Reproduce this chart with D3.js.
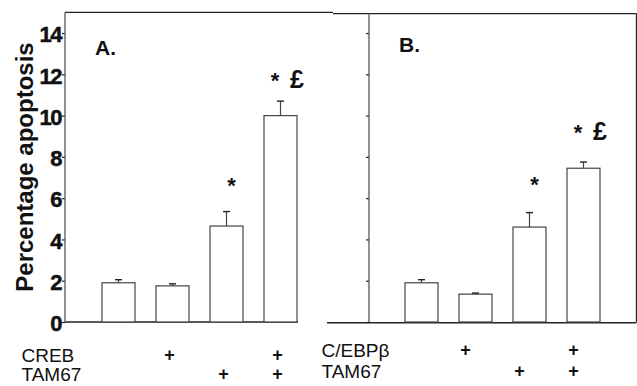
<!DOCTYPE html>
<html>
<head>
<meta charset="utf-8">
<script src="https://cdn.jsdelivr.net/npm/d3@7"></script>
<style>
  html, body { margin: 0; padding: 0; background: #fff; }
  svg { display: block; }
  text { font-family: "Liberation Sans", Arial, sans-serif; fill: #111; }
</style>
</head>
<body>
<svg id="chart" width="637" height="386"></svg>
<script>
// Percentage apoptosis per condition (mean and SEM)
const creebMeans  = [1.9, 1.75, 4.65, 10.0];
const creebSem    = [0.15, 0.1, 0.7, 0.7];
const cebpMeans   = [1.9, 1.35, 4.6, 7.45];
const cebpSem     = [0.15, 0.05, 0.7, 0.3];

// Significance marks above each bar
const creebMarks  = ["", "", "*", "* £"];
const cebpMarks   = ["", "", "*", "* £"];

// Treatment rows under the bars
const creebRowA   = ["", "+", "", "+"];
const tam67Row    = ["", "", "+", "+"];
const cebpRowA    = ["", "+", "", "+"];

const yTicks      = [0, 2, 4, 6, 8, 10, 12, 14];
const panelLabels = ["A.", "B."];
const rowNamesA   = ["CREB", "TAM67"];
const rowNamesB   = ["C/EBPβ", "TAM67"];
const yTitle      = "Percentage apoptosis";

const svg = d3.select("#chart");
const ink = "#222";
const barStroke = "#444";

const y = d3.scaleLinear().domain([0, 15]).range([322, 12.4]);

const panels = [
  {
    means: creebMeans, sem: creebSem, marks: creebMarks,
    rows: [creebRowA, tam67Row], rowNames: rowNamesA,
    axisX: 65, xRange: [91.5, 307.5], label: panelLabels[0],
    labelPos: [95, 55], top: [65, 333], base: [65, 298],
    rightBorder: false, rowNameX: 21.5, rowBase: [361.5, 380.5],
    plusShift: -3, markGap: [0, 0, 18.5, 13]
  },
  {
    means: cebpMeans, sem: cebpSem, marks: cebpMarks,
    rows: [cebpRowA, tam67Row], rowNames: rowNamesB,
    axisX: 369, xRange: [394.5, 610.5], label: panelLabels[1],
    labelPos: [399, 52], top: [333, 636.5], base: [327, 636.5],
    rightBorder: true, rowNameX: 321.5, rowBase: [357, 377.5],
    plusShift: -10, markGap: [0, 0, 21, 22]
  }
];

panels.forEach((p, pi) => {
  const g = svg.append("g");
  const idx = d3.range(p.means.length);
  const x = d3.scaleBand().domain(idx).range(p.xRange)
    .paddingInner(0.389).paddingOuter(0.1945);

  // frame: top edge, baseline, optional right edge
  const topY = pi === 0 ? y(15) : y(15) + 1.2;
  g.append("line").attr("x1", p.top[0]).attr("x2", p.top[1])
    .attr("y1", topY).attr("y2", topY)
    .attr("stroke", ink).attr("stroke-width", 1.3);
  g.append("line").attr("x1", p.base[0]).attr("x2", p.base[1])
    .attr("y1", y(0) + pi * 0.8).attr("y2", y(0) + pi * 0.8)
    .attr("stroke", ink).attr("stroke-width", 1.5);
  if (p.rightBorder) {
    g.append("line").attr("x1", p.top[1]).attr("x2", p.top[1])
      .attr("y1", topY).attr("y2", y(0))
      .attr("stroke", ink).attr("stroke-width", 1.3);
  }

  // y axis
  const axis = d3.axisLeft(y).tickValues(yTicks).tickSize(3).tickPadding(1)
    .tickFormat(pi === 0 ? d3.format("d") : () => "");
  const ax = g.append("g").attr("transform", `translate(${p.axisX},0)`).call(axis);
  ax.select(".domain").remove();
  ax.append("line").attr("x1", 0).attr("x2", 0)
    .attr("y1", topY).attr("y2", y(0))
    .attr("stroke", "#555").attr("stroke-width", 1.3);
  ax.selectAll(".tick line").attr("stroke", ink).attr("stroke-width", 1.2);
  ax.selectAll(".tick text")
    .attr("dy", "0.4em")
    .style("font-size", "22px").style("font-weight", "bold")
    .style("letter-spacing", "-1.5px")
    .style("stroke", "#111").style("stroke-width", "0.5px")
    .attr("fill", "#111");

  // bars
  g.selectAll("rect.bar").data(idx).join("rect")
    .attr("class", "bar")
    .attr("x", i => x(i)).attr("width", x.bandwidth())
    .attr("y", i => y(p.means[i])).attr("height", i => y(0) - y(p.means[i]))
    .attr("fill", "#fff").attr("stroke", barStroke).attr("stroke-width", 1.2);

  // upper error bars with caps
  idx.forEach(i => {
    const cx = x(i) + x.bandwidth() / 2;
    const yt = y(p.means[i] + p.sem[i]);
    g.append("line").attr("x1", cx).attr("x2", cx)
      .attr("y1", y(p.means[i])).attr("y2", yt)
      .attr("stroke", barStroke).attr("stroke-width", 1.2);
    g.append("line").attr("x1", cx - 3.5).attr("x2", cx + 3.5)
      .attr("y1", yt).attr("y2", yt)
      .attr("stroke", ink).attr("stroke-width", 1.4);
  });

  // significance marks
  idx.forEach(i => {
    const m = p.marks[i];
    if (!m) return;
    const cx = x(i) + x.bandwidth() / 2;
    const base = y(p.means[i] + p.sem[i]) - p.markGap[i];
    if (m === "*") {
      g.append("text").attr("x", cx + 5).attr("y", base)
        .attr("text-anchor", "middle")
        .style("font-size", "22px").style("font-weight", "bold").text("*");
    } else {
      g.append("text").attr("x", cx - 5.5).attr("y", base)
        .attr("text-anchor", "middle")
        .style("font-size", "22px").style("font-weight", "bold").text("*");
      g.append("text").attr("x", cx + 16.5).attr("y", base)
        .attr("text-anchor", "middle")
        .style("font-size", "25px").style("font-weight", "bold").text("£");
    }
  });

  // panel letter
  g.append("text").attr("x", p.labelPos[0]).attr("y", p.labelPos[1])
    .style("font-size", "21px").style("font-weight", "bold").text(p.label);

  // treatment rows
  p.rowNames.forEach((name, r) => {
    g.append("text").attr("x", p.rowNameX).attr("y", p.rowBase[r])
      .style("font-size", "19px").text(name);
    p.rows[r].forEach((s, i) => {
      if (!s) return;
      g.append("text")
        .attr("x", x(i) + x.bandwidth() / 2 + p.plusShift)
        .attr("y", p.rowBase[r] - 1)
        .attr("text-anchor", "middle")
        .style("font-size", "18px").style("font-weight", "bold").text(s);
    });
  });
});

// y axis title
svg.append("text")
  .attr("transform", "translate(33,167) rotate(-90)")
  .attr("text-anchor", "middle")
  .style("font-size", "24px").style("font-weight", "bold")
  .text(yTitle);
</script>
</body>
</html>
